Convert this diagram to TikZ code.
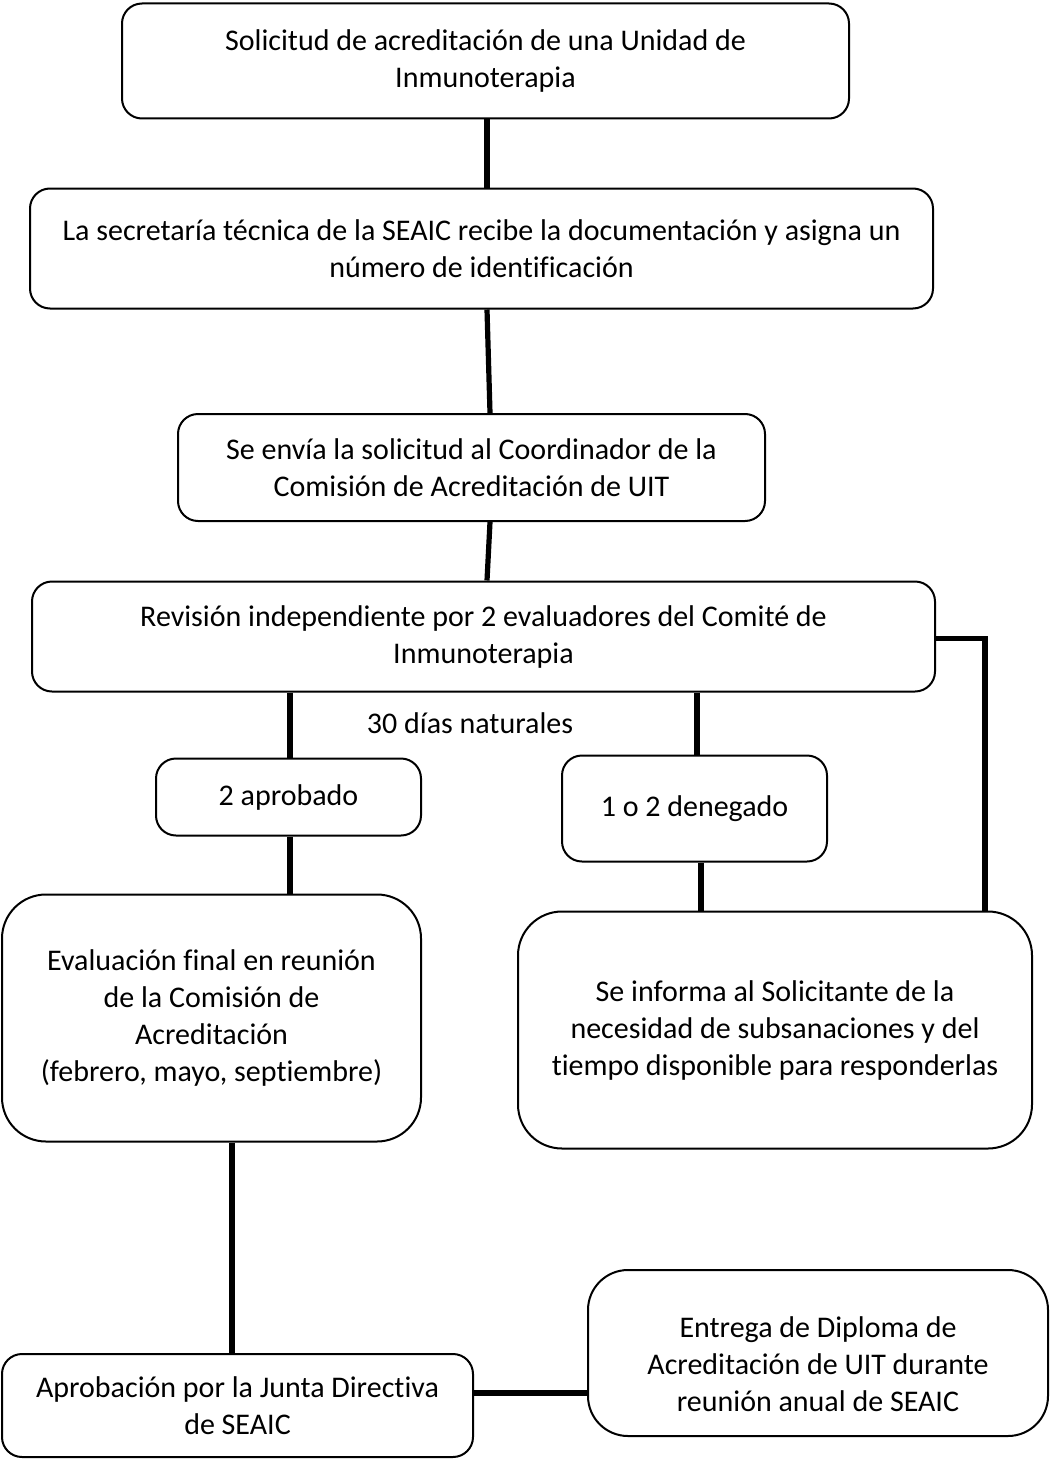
\documentclass[tikz,border=0pt]{standalone}
\usepackage{fontspec}
\setmainfont{Carlito}[Ligatures=NoCommon]
\usetikzlibrary{positioning}

\tikzset{
	box/.style={draw, line width=1pt, rounded corners=10pt, align=center, inner sep=0pt},
	bigbox/.style={box, rounded corners=22pt},
	boxsize/.style 2 args={minimum width=#1*0.5pt, minimum height=#2*0.5pt},
	link/.style={line width=2.6pt}
}

\begin{document}
\begin{tikzpicture}[x=0.5pt, y=-0.5pt, font=\fontsize{15}{18.5}\selectfont]
	\useasboundingbox[fill=white](0,0)rectangle(1050,1461);
	\node[box, boxsize={727}{115}](solicitud) at (485.5,61){Solicitud de acreditación de una Unidad de\\Inmunoterapia};
	\node[box, boxsize={903}{120}](secretaria) at (481.5,248.5){La secretaría técnica de la SEAIC recibe la documentación y asigna un\\número de identificación};
	\node[box, boxsize={587}{107}](envio) at (471.5,467.5){Se envía la solicitud al Coordinador de la\\Comisión de Acreditación de UIT};
	\node[box, boxsize={903}{110}](revision) at (483.5,636.5){Revisión independiente por 2 evaluadores del Comité de\\Inmunoterapia};
	\node(plazo) at (470,723){30 días naturales};
	\node[box, boxsize={265}{77}](aprobado) at (288.5,797){2 aprobado};
	\node[box, boxsize={265}{106}](denegado) at (694.5,808.5){1 o 2 denegado};
	\node[bigbox, boxsize={419}{247}](final) at (211.5,1018){Evaluación final en reunión\\de la Comisión de\\Acreditación\\(febrero, mayo, septiembre)};
	\node[bigbox, boxsize={514}{237}](informa) at (775,1030){Se informa al Solicitante de la\\necesidad de subsanaciones y del\\tiempo disponible para responderlas};
	\node[box, boxsize={471}{103}](junta) at (237.5,1405.5){Aprobación por la Junta Directiva\\de SEAIC};
	\node[bigbox, rounded corners=20pt, boxsize={460}{166}](diploma) at (818,1353){\rule{0pt}{22pt}Entrega de Diploma de\\Acreditación de UIT durante\\reunión anual de SEAIC};
	% connectors
	\draw[link](487,0 |- solicitud.south)--(487,0 |- secretaria.north);
	\draw[link](487,0 |- secretaria.south)--(490,0 |- envio.north);
	\draw[link](490,0 |- envio.south)--(487,0 |- revision.north);
	\draw[link](290,0 |- revision.south)--(290,0 |- aprobado.north);
	\draw[link](697,0 |- revision.south)--(697,0 |- denegado.north);
	\draw[link](290,0 |- aprobado.south)--(290,0 |- final.north);
	\draw[link](701,0 |- denegado.south)--(701,0 |- informa.north);
	\draw[link](985,0 |- informa.north)|-([yshift=-1pt]revision.east);
	\draw[link](232,0 |- final.south)--(232,0 |- junta.north);
	\draw[link](junta.east |- 0,1393)--(diploma.west |- 0,1393);
\end{tikzpicture}
\end{document}
